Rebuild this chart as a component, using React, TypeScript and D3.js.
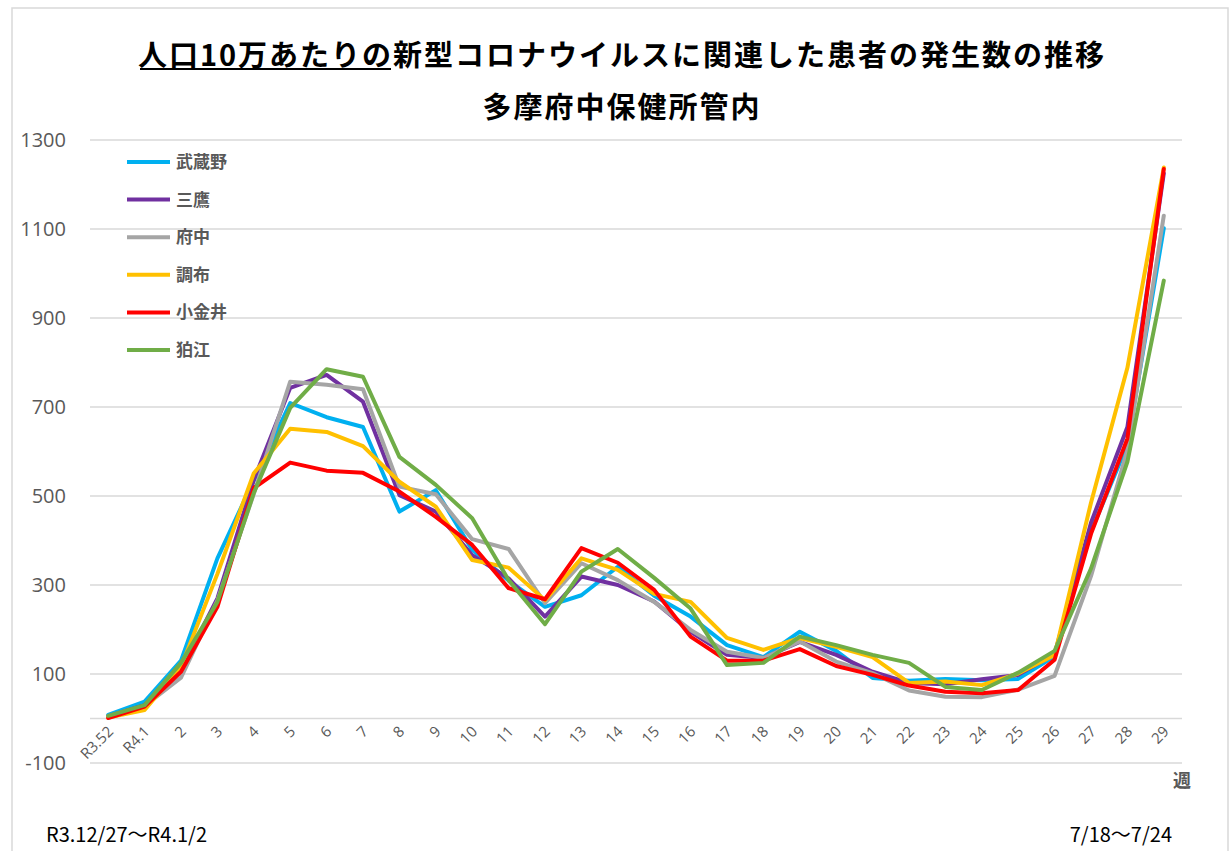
import React from 'react';
import * as d3 from 'd3';

const categories = ['R3.52', 'R4.1', '2', '3', '4', '5', '6', '7', '8', '9', '10', '11', '12', '13', '14', '15', '16', '17', '18', '19', '20', '21', '22', '23', '24', '25', '26', '27', '28', '29'];

const musashino = [8, 38, 130, 360, 535, 709, 677, 655, 465, 513, 379, 310, 251, 277, 341, 276, 229, 165, 138, 195, 152, 91, 85, 89, 86, 89, 140, 420, 615, 1102];
const mitaka = [5, 30, 110, 270, 536, 743, 772, 712, 502, 465, 367, 315, 229, 319, 300, 263, 195, 143, 136, 172, 143, 105, 80, 77, 88, 98, 145, 440, 655, 1225];
const fuchu = [5, 28, 92, 265, 505, 757, 750, 740, 521, 504, 403, 381, 259, 349, 311, 262, 199, 150, 136, 173, 128, 102, 63, 49, 48, 65, 96, 320, 603, 1130];
const chofu = [2, 19, 116, 325, 551, 651, 644, 612, 532, 476, 356, 339, 266, 360, 334, 280, 262, 181, 154, 181, 161, 138, 80, 83, 75, 101, 143, 485, 788, 1238];
const koganei = [1, 27, 105, 251, 518, 575, 557, 552, 510, 453, 390, 293, 268, 383, 350, 289, 184, 130, 130, 156, 118, 98, 74, 60, 57, 64, 132, 415, 629, 1235];
const komae = [6, 30, 125, 262, 507, 698, 785, 768, 588, 525, 450, 311, 212, 330, 381, 316, 247, 120, 125, 184, 165, 143, 125, 71, 64, 103, 152, 337, 577, 984];

const seriesNames = ['武蔵野', '三鷹', '府中', '調布', '小金井', '狛江'];
const seriesColors = ['#00B0F0', '#7030A0', '#A5A5A5', '#FFC000', '#FF0000', '#70AD47'];
const seriesValues = [musashino, mitaka, fuchu, chofu, koganei, komae];

const yTicks = [-100, 100, 300, 500, 700, 900, 1100, 1300];

const W = 1231;
const H = 851;
const plot = { left: 90, right: 1182, top: 140, bottom: 763 };

const jp = '"Noto Sans CJK JP", "Noto Sans", sans-serif';
const num = '"Open Sans", "Noto Sans", sans-serif';

export default function App() {
  const x = d3
    .scaleBand<string>()
    .domain(categories)
    .range([plot.left, plot.right])
    .padding(0);
  const cx = (c: string) => (x(c) as number) + x.bandwidth() / 2;

  const y = d3.scaleLinear().domain([-100, 1300]).range([plot.bottom, plot.top]);

  const line = d3
    .line<number>()
    .x((_, i) => cx(categories[i]))
    .y((d) => y(d));

  return (
    <svg width={W} height={H} style={{ position: 'absolute', left: 0, top: 0, background: '#fff' }}>
      <rect x={0} y={0} width={W} height={H} fill="#fff" />
      <rect x={12} y={8} width={1216} height={H + 10} fill="none" stroke="#D9D9D9" strokeWidth={1.5} />

      {/* title */}
      <text x={622} y={66} textAnchor="middle" fontFamily={jp} fontWeight="bold" fontSize={29} letterSpacing={2} fill="#000">
        人口10万あたりの新型コロナウイルスに関連した患者の発生数の推移
      </text>
      <line x1={140} x2={391} y1={69} y2={69} stroke="#000" strokeWidth={2} />
      <text x={622} y={118} textAnchor="middle" fontFamily={jp} fontWeight="bold" fontSize={29} letterSpacing={2} fill="#000">
        多摩府中保健所管内
      </text>

      {/* gridlines */}
      {yTicks.map((t) => (
        <line key={t} x1={plot.left} x2={plot.right} y1={y(t)} y2={y(t)} stroke="#D9D9D9" strokeWidth={1.5} />
      ))}
      <line x1={plot.left} x2={plot.right} y1={y(0)} y2={y(0)} stroke="#D9D9D9" strokeWidth={1.5} />

      {/* y labels */}
      {yTicks.map((t) => (
        <text key={t} x={66} y={y(t) + 7} textAnchor="end" fontFamily={num} fontSize={20} fill="#595959">
          {t}
        </text>
      ))}

      {/* x labels */}
      {categories.map((c) => (
        <text
          key={c}
          transform={`translate(${cx(c) + 6},${y(0) + 14}) rotate(-45)`}
          textAnchor="end"
          fontFamily={num}
          fontSize={15}
          fill="#595959"
        >
          {c}
        </text>
      ))}
      <text x={1182} y={787} textAnchor="middle" fontFamily={jp} fontWeight="bold" fontSize={18} fill="#595959">
        週
      </text>

      {/* series */}
      {seriesValues.map((vals, i) => (
        <path
          key={seriesNames[i]}
          d={line(vals) as string}
          fill="none"
          stroke={seriesColors[i]}
          strokeWidth={4}
          strokeLinejoin="round"
          strokeLinecap="round"
        />
      ))}

      {/* legend */}
      {seriesNames.map((n, i) => {
        const ly = 162 + i * 37.6;
        return (
          <g key={n}>
            <line x1={127} x2={170} y1={ly} y2={ly} stroke={seriesColors[i]} strokeWidth={4} />
            <text x={176} y={ly + 6} fontFamily={jp} fontWeight="bold" fontSize={17} fill="#595959">
              {n}
            </text>
          </g>
        );
      })}

      {/* footer */}
      <text x={46} y={842} fontFamily={jp} fontSize={20} fill="#000">
        R3.12/27～R4.1/2
      </text>
      <text x={1172} y={842} textAnchor="end" fontFamily={jp} fontSize={20} fill="#000">
        7/18～7/24
      </text>
    </svg>
  );
}
